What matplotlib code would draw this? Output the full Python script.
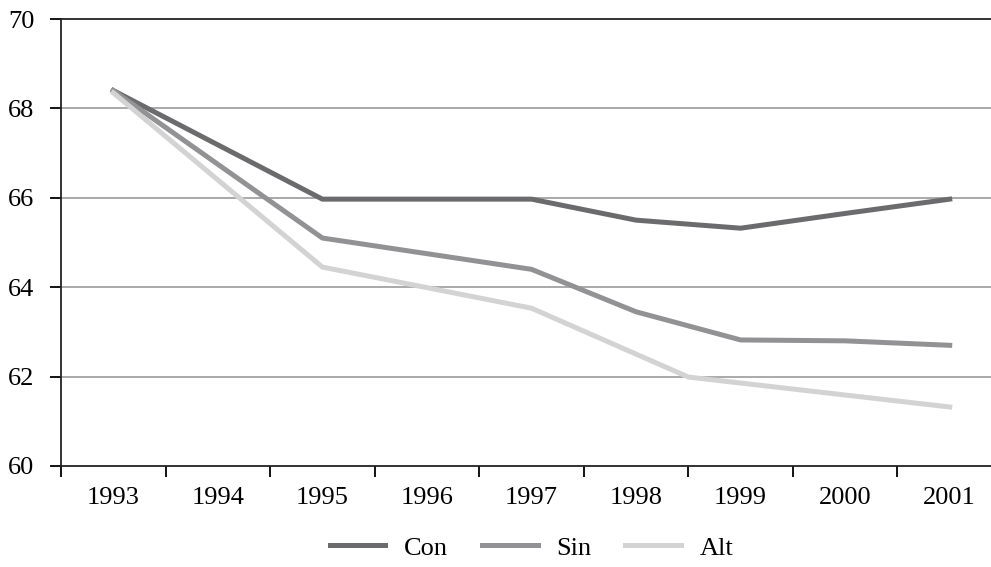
import matplotlib
matplotlib.use("Agg")
import matplotlib.pyplot as plt
import numpy as np

plt.rcParams['font.family'] = ['Liberation Serif', 'DejaVu Serif']

years = [1993, 1994, 1995, 1996, 1997, 1998, 1999, 2000, 2001]

con_x = [1993, 1995, 1997, 1998, 1999, 2000, 2001]
con = [68.4, 65.97, 65.97, 65.5, 65.32, 65.65, 65.97]

sin_x = [1993, 1995, 1997, 1998, 1999, 2000, 2001]
sin = [68.4, 65.1, 64.4, 63.45, 62.82, 62.8, 62.7]

alt_x = [1993, 1995, 1997, 1998.5, 2001]
alt = [68.35, 64.45, 63.53, 61.99, 61.32]

colors = ['#6b6b6e', '#929295', '#d3d3d3']

fig = plt.figure(figsize=(9.91, 5.67), dpi=100)
ax = fig.add_axes([61/991, 1-466/567, (1002-61)/991, 447/567])

for xs, ys, c, lab in [(con_x, con, colors[0], 'Con'),
                       (sin_x, sin, colors[1], 'Sin'),
                       (alt_x, alt, colors[2], 'Alt')]:
    ax.plot([x - 1993 for x in xs], ys, color=c, lw=3.6, label=lab,
            solid_joinstyle='miter', zorder=3)

ax.set_ylim(60, 70)
ax.set_yticks(np.arange(60, 71, 2))
ax.set_xlim(-0.5, len(years) - 0.5)
ax.set_xticks(np.arange(-0.5, len(years), 1.0))
ax.set_xticklabels([])
ax.set_xticks(range(len(years)), minor=True)
ax.set_xticklabels([str(y) for y in years], minor=True)
ax.tick_params(axis='x', which='minor', length=0, pad=15, labelsize=19)
ax.tick_params(axis='x', which='major', length=8, width=1.3, direction='out')
ax.tick_params(axis='y', length=8, width=1.3, direction='out', pad=11, labelsize=19)

for v in [62, 64, 66, 68]:
    ax.axhline(v, color='#a3a3a3', lw=1.3, zorder=1)

ax.spines['right'].set_visible(False)
for s in ['left', 'bottom', 'top']:
    ax.spines[s].set_linewidth(1.3)
    ax.spines[s].set_color('#222222')

ax.legend(loc='center', bbox_to_anchor=(0.5, -0.183), ncol=3, frameon=False,
          fontsize=19, handlelength=2.1, handletextpad=0.7, columnspacing=1.3)

fig.savefig('out.png', dpi=100)
